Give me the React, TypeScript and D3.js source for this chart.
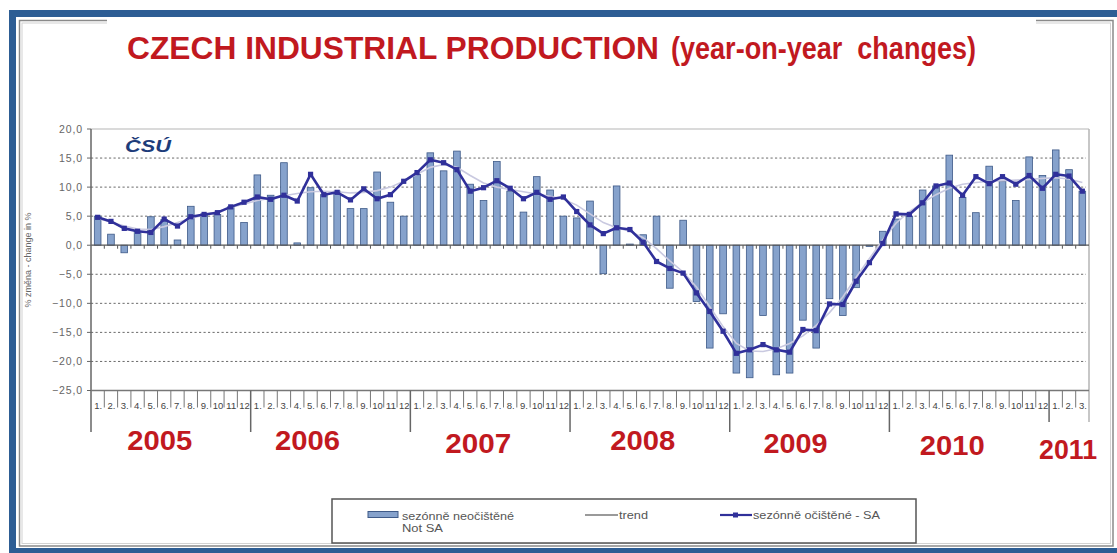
import React from 'react';
import * as d3 from 'd3';

const years = ['2005', '2006', '2007', '2008', '2009', '2010', '2011'];
const monthsInYear = [12, 12, 12, 12, 12, 12, 3];
const monthNames = ['1.', '2.', '3.', '4.', '5.', '6.', '7.', '8.', '9.', '10', '11', '12'];

// Not seasonally adjusted (bars)
const notSA = [
  5.0, 1.9, -1.3, 2.4, 4.9, 4.4, 0.9, 6.7, 5.4, 5.3, 6.6, 3.9,
  12.1, 8.6, 14.2, 0.4, 9.9, 8.7, 9.3, 6.3, 6.3, 12.6, 7.4, 5.0,
  12.2, 15.9, 12.8, 16.2, 10.5, 7.7, 14.4, 9.3, 5.7, 11.8, 9.5, 5.0,
  4.7, 7.6, -4.9, 10.2, 0.2, 1.8, 5.0, -7.4, 4.3, -9.7, -17.7, -11.8,
  -22.0, -22.8, -12.1, -22.3, -22.0, -12.9, -17.7, -9.2, -12.1, -7.3, -0.2, 2.4,
  4.5, 5.0, 9.5, 10.2, 15.5, 8.2, 5.6, 13.6, 11.0, 7.7, 15.2, 12.0,
  16.4, 13.0, 9.3,
];

// Seasonally adjusted (line with markers)
const sa = [
  4.8, 4.1, 2.9, 2.4, 2.2, 4.5, 3.3, 4.9, 5.3, 5.6, 6.6, 7.4,
  8.3, 7.9, 8.6, 7.6, 12.2, 8.7, 9.1, 7.8, 9.7, 8.0, 8.7, 11.0,
  12.5, 14.7, 14.2, 13.0, 9.3, 9.9, 11.1, 9.8, 8.0, 9.1, 7.9, 8.3,
  5.8, 3.5, 2.0, 3.0, 2.7, 0.5, -2.8, -4.0, -4.8, -8.2, -11.4, -14.8,
  -18.6, -18.0, -17.1, -18.0, -18.4, -14.5, -14.7, -10.1, -10.2, -6.2, -3.0, 0.3,
  5.4, 5.3, 7.3, 10.2, 10.7, 8.6, 11.8, 10.6, 11.8, 10.5, 12.0, 9.8,
  12.2, 11.9, 9.3,
];

// Trend (thin light line)
const trend = [
  4.6, 4.0, 3.3, 2.8, 2.7, 3.2, 3.9, 4.6, 5.2, 5.8, 6.5, 7.1,
  7.7, 8.1, 8.5, 8.9, 9.2, 9.3, 9.2, 9.0, 9.1, 9.4, 10.0, 11.0,
  12.2, 13.4, 13.9, 13.4, 12.0, 10.7, 10.0, 9.6, 9.2, 8.8, 8.4, 7.9,
  6.9, 5.4, 3.9, 3.0, 2.4, 1.3, -0.6, -2.7, -4.6, -7.2, -10.6, -14.0,
  -16.9, -18.2, -18.3, -17.8, -16.9, -15.6, -13.8, -11.6, -8.9, -5.5, -2.3, 0.9,
  3.8, 5.8, 7.3, 8.7, 9.8, 10.5, 10.8, 11.0, 11.1, 11.2, 11.3, 11.5,
  11.6, 11.4, 10.8,
];

const yTicks = [20, 15, 10, 5, 0, -5, -10, -15, -20, -25];

const titleMain = 'CZECH INDUSTRIAL PRODUCTION';
const titleSub = '(year-on-year  changes)';
const yAxisTitle = '% změna - change in %';
const legendBars = ['sezónně neočištěné', 'Not SA'];
const legendTrend = 'trend';
const legendSA = 'sezónně očištěné - SA';

// layout nudges for the hand-placed year labels
const yearLabelDx = [-11, -23, -12, -7, -14, -17, -1];
const yearLabelDy = [0, 0, 3, 0, 3, 5, 9];
const yearLabelWidth = [65, 65, 66, 65, 64, 65, 58];

const W = 1117;
const H = 553;
const PL = 91;
const PR = 1089;
const PT = 129;
const PB = 390.5;

const RED = '#c1191f';
const BLUE = '#2d5d94';
const NAVY = '#30309a';
const FONT = '"Liberation Sans", Arial, Helvetica, sans-serif';

export default function App() {
  const cats = years.flatMap((yr, yi) => d3.range(monthsInYear[yi]).map((m) => `${yr}-${m + 1}`));
  const monthOf = years.flatMap((yr, yi) => d3.range(monthsInYear[yi]).map((m) => m));

  const x = d3.scaleBand<string>().domain(cats).range([PL, PR]).paddingInner(0.5).paddingOuter(0.25);
  const step = x.step();
  const bw = x.bandwidth();
  const y = d3.scaleLinear().domain([-25, 20]).range([PB, PT]);
  const cx = (i: number) => (x(cats[i]) as number) + bw / 2;
  const boundary = (i: number) => (x(cats[i]) as number) - step * 0.25;

  const lineGen = d3
    .line<number>()
    .x((_, i) => cx(i))
    .y((d) => y(d));

  const yearStartIdx: number[] = [];
  let acc = 0;
  monthsInYear.forEach((n) => {
    yearStartIdx.push(acc);
    acc += n;
  });
  const yearBounds = yearStartIdx.map((i) => boundary(i));
  const yearEnd = (yi: number) => (yi < years.length - 1 ? yearBounds[yi + 1] : PR);

  return (
    <div style={{ position: 'absolute', left: 0, top: 0 }}>
      <svg width={W} height={H} style={{ display: 'block', fontFamily: FONT }}>
        <rect x={0} y={0} width={W} height={H} fill="#ffffff" />

        {/* outer frame */}
        <rect x={19.5} y={20.5} width={1093.5} height={525.5} fill="none" stroke="#8a8a8a" strokeWidth={1.5} />
        <rect x={22} y={23} width={1088.5} height={520.5} fill="none" stroke="#d2d2d2" strokeWidth={1} />
        <rect x={9} y={10} width={W - 9} height={7} fill={BLUE} />
        <rect x={9} y={10} width={7} height={H - 10} fill={BLUE} />
        <rect x={9} y={548} width={W - 9} height={5} fill={BLUE} />
        <rect x={107} y={17} width={929} height={62} fill="#ffffff" />

        {/* title */}
        <text x={127} y={59} fontSize={32} fontWeight="bold" fill={RED} textLength={532} lengthAdjust="spacingAndGlyphs">
          {titleMain}
        </text>
        <text
          x={671}
          y={59}
          fontSize={31}
          fontWeight="bold"
          fill={RED}
          textLength={305}
          lengthAdjust="spacingAndGlyphs"
          style={{ whiteSpace: 'pre' }}
        >
          {titleSub}
        </text>

        {/* gridlines */}
        {yTicks
          .filter((t) => t !== 0 && t !== 20 && t !== -25)
          .map((t) => (
            <line key={`g${t}`} x1={PL} x2={PR - 3} y1={y(t)} y2={y(t)} stroke="#6a6a6a" strokeWidth={1} strokeDasharray="2.2,2.3" />
          ))}

        {/* plot frame top/right */}
        <line x1={PL} x2={PR} y1={PT} y2={PT} stroke="#b5b5b5" strokeWidth={1.2} />
        <line x1={PR} x2={PR} y1={PT} y2={422} stroke="#b5b5b5" strokeWidth={1.5} />

        {/* logo */}
        <text x={125} y={152} fontSize={17} fontWeight={900} fontStyle="italic" fill="#1d3c7a" textLength={46} lengthAdjust="spacingAndGlyphs">
          ČSÚ
        </text>

        {/* bars */}
        {notSA.map((v, i) => (
          <rect
            key={`b${i}`}
            x={x(cats[i])}
            y={y(Math.max(0, v))}
            width={bw}
            height={Math.max(0.8, Math.abs(y(v) - y(0)))}
            fill="#86a2cc"
            stroke="#3e5a88"
            strokeWidth={0.8}
          />
        ))}

        {/* zero line with month ticks */}
        <line x1={PL} x2={PR} y1={y(0)} y2={y(0)} stroke="#555" strokeWidth={1.2} />
        {cats.slice(1).map((_, k) => (
          <line key={`zt${k}`} x1={boundary(k + 1)} x2={boundary(k + 1)} y1={y(0)} y2={y(0) + 3.5} stroke="#555" strokeWidth={1} />
        ))}

        {/* trend */}
        <path d={lineGen(trend) || ''} fill="none" stroke="#c9c9e0" strokeWidth={1.6} />
        {/* SA line */}
        <path d={lineGen(sa) || ''} fill="none" stroke={NAVY} strokeWidth={2.6} strokeLinejoin="round" />
        {sa.map((v, i) => (
          <rect key={`m${i}`} x={cx(i) - 2.6} y={y(v) - 2.6} width={5.2} height={5.2} fill={NAVY} />
        ))}

        {/* y axis */}
        <line x1={PL} x2={PL} y1={PT} y2={432} stroke="#666" strokeWidth={1.5} />
        {yTicks.map((t) => (
          <g key={`yt${t}`}>
            <line x1={PL - 4} x2={PL} y1={y(t)} y2={y(t)} stroke="#666" strokeWidth={1} />
            <text x={83} y={y(t) + 3.5} fontSize={10.5} textAnchor="end" fill="#666" letterSpacing={0.9}>
              {d3.format('.1f')(t).replace('.', ',')}
            </text>
          </g>
        ))}
        <text transform={`translate(31,${260}) rotate(-90)`} fontSize={9} textAnchor="middle" fill="#666">
          {yAxisTitle}
        </text>

        {/* bottom axis */}
        <line x1={PL} x2={PR} y1={PB} y2={PB} stroke="#777" strokeWidth={1.3} />
        {cats.map((_, i) =>
          i === 0 || yearStartIdx.includes(i) ? null : (
            <line key={`mt${i}`} x1={boundary(i)} x2={boundary(i)} y1={PB} y2={PB + 17} stroke="#777" strokeWidth={1} />
          )
        )}
        {yearBounds.slice(1).map((bx, k) => (
          <line key={`yb${k}`} x1={bx} x2={bx} y1={PB} y2={k === yearBounds.length - 2 ? 422 : 432} stroke="#666" strokeWidth={1.5} />
        ))}
        {cats.map((_, i) => {
          const lbl = monthNames[monthOf[i]];
          const two = monthOf[i] >= 9;
          return (
            <text
              key={`ml${i}`}
              x={cx(i) + 0.5}
              y={409}
              fontSize={9.5}
              textAnchor="middle"
              fill="#444"
              {...(two ? { textLength: 10.5, lengthAdjust: 'spacingAndGlyphs' } : {})}
            >
              {lbl}
            </text>
          );
        })}

        {/* year labels */}
        {years.map((yr, yi) => (
          <text
            key={`yl${yr}`}
            x={(yearBounds[yi] + yearEnd(yi)) / 2 + yearLabelDx[yi]}
            y={450 + yearLabelDy[yi]}
            fontSize={28}
            fontWeight="bold"
            fill={RED}
            textAnchor="middle"
            textLength={yearLabelWidth[yi]}
            lengthAdjust="spacingAndGlyphs"
          >
            {yr}
          </text>
        ))}

        {/* legend */}
        <rect x={332} y={499} width={584} height={44} fill="#fff" stroke="#555" strokeWidth={1.5} />
        <rect x={368} y={511.5} width={30} height={6} fill="#86a2cc" stroke="#3e5a88" strokeWidth={1} />
        <text x={402} y={520} fontSize={10.5} fill="#555" textLength={112} lengthAdjust="spacingAndGlyphs">
          {legendBars[0]}
        </text>
        <text x={402} y={532} fontSize={10.5} fill="#555" textLength={41} lengthAdjust="spacingAndGlyphs">
          {legendBars[1]}
        </text>
        <line x1={585} x2={618} y1={515} y2={515} stroke="#9a9a9a" strokeWidth={2} />
        <text x={619} y={519} fontSize={10.5} fill="#555" textLength={29} lengthAdjust="spacingAndGlyphs">
          {legendTrend}
        </text>
        <line x1={720} x2={752} y1={515} y2={515} stroke={NAVY} strokeWidth={2.2} />
        <rect x={733} y={512.5} width={5} height={5} fill={NAVY} />
        <text x={753} y={519} fontSize={10.5} fill="#555" textLength={127} lengthAdjust="spacingAndGlyphs">
          {legendSA}
        </text>
      </svg>
    </div>
  );
}
